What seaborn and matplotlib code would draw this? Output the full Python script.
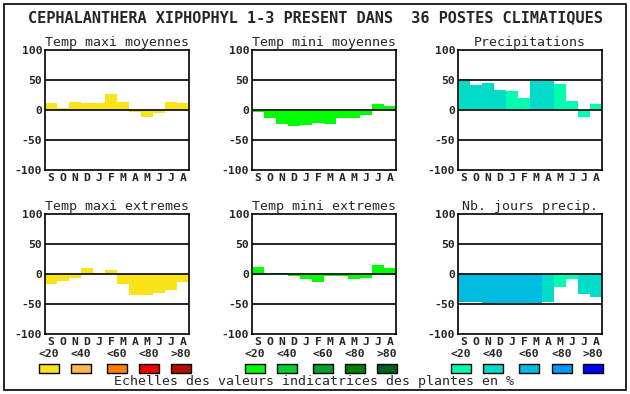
import matplotlib
matplotlib.use("Agg")
import matplotlib.pyplot as plt
import matplotlib.patches as mpatches
import pandas as pd
import seaborn as sns

sns.set_style("white")
plt.rcParams['font.family'] = ['DejaVu Sans Mono']

months = ["S", "O", "N", "D", "J", "F", "M", "A", "M", "J", "J", "A"]
classes = ["<20", "<40", "<60", "<80", ">80"]

# legend colours for each scale
yellows = ["#f8e418", "#ffb850", "#ff8000", "#f00000", "#b01000"]
greens = ["#00ff00", "#00d030", "#00a030", "#008000", "#006020"]
blues = ["#00ffb0", "#00dcc8", "#00bce0", "#0098f0", "#0000ff"]

tmax_moy = [11, 4, 13, 12, 12, 27, 13, -3, -12, -5, 13, 12]
tmin_moy = [-4, -14, -23, -26, -25, -22, -23, -13, -13, -8, 10, 7]
precip = [51, 42, 45, 33, 32, 20, 49, 49, 43, 15, -12, 10]
precip_cls = [1, 1, 1, 1, 0, 0, 1, 1, 0, 0, 0, 0]
tmax_ext = [-16, -11, -7, 10, 2, 7, -16, -35, -35, -32, -26, -14]
tmin_ext = [12, 2, 2, -3, -8, -13, -3, -3, -8, -6, 15, 10]
jours = [-46, -46, -49, -48, -49, -48, -48, -46, -21, -8, -34, -38]
jours_cls = [2, 2, 2, 2, 2, 2, 2, 1, 0, 0, 1, 1]

panels = [
    ("Temp maxi moyennes", tmax_moy, [0] * 12, yellows),
    ("Temp mini moyennes", tmin_moy, [0] * 12, greens),
    ("Precipitations", precip, precip_cls, blues),
    ("Temp maxi extremes", tmax_ext, [0] * 12, yellows),
    ("Temp mini extremes", tmin_ext, [0] * 12, greens),
    ("Nb. jours precip.", jours, jours_cls, blues),
]

W, H = 630, 394
fig = plt.figure(figsize=(W / 100, H / 100), dpi=100)

fig.patches.append(mpatches.Rectangle((4 / W, 1 - 390 / H), 622 / W, 386 / H,
                                      transform=fig.transFigure, fill=False,
                                      edgecolor="black", linewidth=1.2))

fig.text(315 / W, 1 - 18 / H,
         "CEPHALANTHERA XIPHOPHYL 1-3 PRESENT DANS  36 POSTES CLIMATIQUES",
         ha="center", va="center", fontsize=11, fontweight="semibold")

lefts = [45, 252, 458]
tops = [50, 214]

for i, (title, vals, cls, pal) in enumerate(panels):
    left = lefts[i % 3]
    top = tops[i // 3]
    ax = fig.add_axes([left / W, 1 - (top + 120) / H, 144 / W, 120 / H])
    df = pd.DataFrame({"pos": range(12), "val": vals,
                       "col": [pal[c] for c in cls]})
    sns.barplot(data=df, x="pos", y="val", hue="pos",
                palette=list(df["col"]), width=1.0, legend=False,
                saturation=1, linewidth=0, ax=ax)
    ax.set_xlim(-0.5, 11.5)
    ax.set_ylim(-100, 100)
    for yv in (-50, 0, 50):
        ax.axhline(yv, color="black", linewidth=1.2, zorder=3)
    ax.set_yticks([-100, -50, 0, 50, 100])
    ax.set_yticklabels(["-100", "-50", "0", "50", "100"],
                       fontsize=8.2, fontweight="bold")
    ax.set_xticks(range(12))
    ax.set_xticklabels(months, fontsize=8.2, fontweight="bold")
    ax.tick_params(length=0, pad=2)
    ax.set_xlabel("")
    ax.set_ylabel("")
    ax.set_title(title, fontsize=9.5, pad=3)
    for s in ax.spines.values():
        s.set_color("black")
        s.set_linewidth(1.2)

# colour scales under the bottom row
box_x = [[39, 71, 107, 139, 171], [245, 277, 313, 345, 377],
         [451, 483, 519, 552, 583]]
for col, pal in enumerate([yellows, greens, blues]):
    for k in range(5):
        x0 = box_x[col][k]
        fig.text((x0 + 10) / W, 1 - 354 / H, classes[k], ha="center",
                 va="center", fontsize=8.2, fontweight="bold")
        fig.patches.append(mpatches.Rectangle((x0 / W, 1 - 373 / H), 20 / W, 9 / H,
                                              transform=fig.transFigure,
                                              facecolor=pal[k], edgecolor="black",
                                              linewidth=1))

fig.text(314 / W, 1 - 382 / H,
         "Echelles des valeurs indicatrices des plantes en %",
         ha="center", va="center", fontsize=9.5)

fig.savefig("out.png", dpi=100)
